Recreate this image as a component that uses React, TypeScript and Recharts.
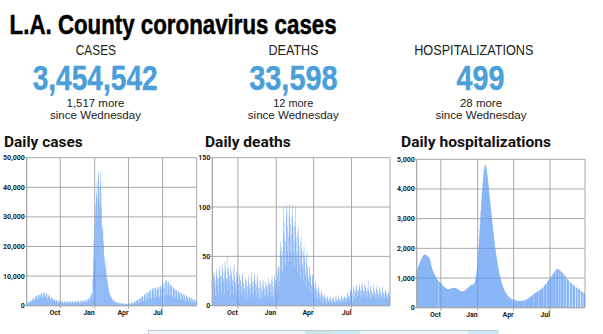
import React from 'react';
import { BarChart, Bar, XAxis, YAxis, CartesianGrid } from 'recharts';

// ---------- data ----------
const X_TICKS = [92, 184, 274, 365];
const X_TICK_LABELS = ['Oct', 'Jan', 'Apr', 'Jul'];

const CASES_START = 3;
const CASES_VALUES = [
  400, 700, 1000, 1100, 1200, 1100, 800,
  900, 1300, 1600, 1700, 1800, 1600, 1200,
  1400, 1900, 2400, 2600, 2700, 2400, 1700,
  1900, 2500, 3100, 3300, 3400, 3100, 2200,
  2300, 3000, 3600, 3800, 3900, 3600, 2600,
  2600, 3300, 4000, 4200, 4300, 4000, 2900,
  2800, 3600, 4400, 4600, 4500, 4200, 3000,
  2600, 3300, 4100, 4300, 4000, 3700, 2700,
  2300, 2900, 3500, 3600, 3400, 3100, 2200,
  1800, 2200, 2900, 2900, 2700, 2500, 1700,
  1400, 1800, 2300, 2300, 2200, 2000, 1400,
  1100, 1500, 1900, 1900, 1800, 1600, 1100,
  900, 1200, 1600, 1700, 1600, 1400, 900,
  800, 1100, 1400, 1500, 1500, 1300, 900,
  700, 1000, 1300, 1500, 1400, 1300, 800,
  700, 1100, 1400, 1500, 1400, 1300, 800,
  800, 1100, 1500, 1600, 1500, 1300, 900,
  700, 1100, 1400, 1500, 1400, 1200, 800,
  800, 1200, 1500, 1700, 1600, 1400, 900,
  900, 1300, 1700, 1800, 1700, 1500, 900,
  800, 1200, 1600, 1800, 600, 1400, 1000,
  900, 1500, 1700, 1800, 1700, 1500, 1000,
  1000, 1600, 1900, 2000, 1900, 1700, 1100,
  1200, 2000, 2300, 2500, 2600, 2400, 1600,
  1800, 2800, 3300, 3900, 4500, 3500, 1500,
  4000, 9000, 12000, 16000, 22000, 27000, 21000,
  15000, 31000, 34000, 37000, 38000, 42000, 30000,
  36000, 44000, 45500, 43000, 40000, 35000, 33000,
  45000, 42000, 38000, 33000, 26000, 27000, 25000,
  26000, 22000, 20000, 17000, 14000, 16000, 13000,
  12000, 15000, 11000, 9000, 8000, 7000, 9000,
  6500, 6000, 5000, 4500, 3500, 4000, 3000,
  2500, 3200, 2800, 2200, 1800, 1500, 2500,
  2000, 1800, 1600, 1300, 1100, 900, 1400,
  1300, 1200, 1100, 900, 700, 1100, 1000,
  1000, 900, 800, 600, 500, 900, 900,
  800, 800, 700, 500, 400, 800, 800,
  700, 750, 650, 450, 400, 750, 700,
  700, 700, 600, 400, 350, 750, 750,
  800, 800, 700, 450, 400, 900, 1000,
  1000, 1100, 900, 600, 500, 1200, 1300,
  1400, 1500, 1300, 800, 700, 1700, 1800,
  1900, 2000, 1700, 1000, 900, 2200, 2300,
  2500, 2600, 2200, 1300, 1100, 2900, 3000,
  3200, 3300, 2800, 1600, 1400, 3600, 3800,
  3900, 4000, 3400, 2000, 1700, 4300, 4500,
  4600, 4700, 4000, 2300, 2000, 5000, 5200,
  5300, 5400, 4600, 2600, 2200, 5600, 5800,
  5900, 6000, 5100, 2900, 2500, 6000, 6100,
  6100, 6000, 5200, 2900, 2500, 5800, 6200,
  6300, 6200, 5400, 3000, 2600, 6400, 6600,
  6700, 6500, 5600, 3100, 2700, 6900, 7200,
  400, 7000, 8000, 6000, 3500, 3000, 8500,
  8800, 8600, 7400, 4200, 3600, 8200, 8000,
  7800, 7600, 6500, 3700, 3200, 7300, 7100,
  6900, 6700, 5800, 3300, 2800, 6400, 6200,
  6000, 5800, 5000, 2900, 2500, 5600, 5400,
  5300, 5100, 4400, 2500, 2200, 5000, 4800,
  4700, 4500, 3900, 2300, 2000, 4500, 4300,
  4200, 4000, 3400, 2000, 1800, 4000, 3800,
  3700, 3500, 3000, 1800, 1600, 3500, 3300,
  3200, 3000, 2600, 1500, 1300, 3000, 2800,
  2700, 2600, 2200, 1300, 1100, 2600, 2400,
  2300, 2200, 1900, 1100, 900, 2200, 2000,
  1900, 1800, 1600, 1000, 900, 1700,
];

const DEATHS_START = 31;
const DEATHS_VALUES = [
  22, 8, 30, 35, 28, 32, 18,
  25, 10, 33, 38, 30, 28, 20,
  28, 12, 36, 40, 33, 30, 22,
  30, 14, 42, 38, 35, 27, 24,
  32, 12, 45, 36, 40, 28, 25,
  28, 15, 50, 34, 38, 30, 22,
  30, 10, 40, 35, 32, 27, 20,
  26, 12, 38, 42, 30, 25, 18,
  24, 10, 35, 33, 28, 30, 16,
  22, 8, 32, 30, 26, 24, 14,
  20, 9, 30, 34, 24, 22, 15,
  18, 8, 28, 26, 25, 20, 12,
  20, 6, 25, 30, 22, 18, 14,
  22, 8, 34, 28, 24, 20, 12,
  24, 10, 30, 33, 26, 22, 15,
  20, 8, 28, 31, 24, 18, 12,
  18, 6, 26, 25, 8, 20, 14,
  16, 7, 24, 26, 20, 17, 10,
  18, 8, 25, 22, 20, 16, 12,
  20, 9, 28, 24, 22, 18, 14,
  22, 10, 26, 30, 24, 10, 8,
  20, 12, 28, 32, 26, 22, 10,
  25, 15, 32, 38, 40, 35, 20,
  40, 25, 55, 65, 60, 50, 35,
  55, 35, 75, 100, 85, 70, 45,
  65, 40, 90, 102, 95, 80, 55,
  70, 45, 95, 103, 90, 82, 55,
  72, 45, 92, 102, 88, 80, 55,
  65, 40, 85, 100, 80, 70, 50,
  55, 35, 75, 80, 68, 60, 42,
  50, 28, 65, 70, 58, 55, 38,
  42, 25, 55, 60, 50, 45, 30,
  35, 20, 48, 55, 40, 38, 25,
  28, 15, 38, 40, 32, 30, 20,
  22, 12, 30, 32, 25, 22, 15,
  18, 8, 22, 25, 18, 16, 10,
  14, 6, 18, 20, 15, 12, 8,
  10, 4, 14, 16, 12, 10, 6,
  8, 3, 10, 12, 9, 8, 5,
  6, 2, 9, 10, 7, 6, 4,
  6, 3, 8, 10, 7, 6, 4,
  5, 2, 8, 9, 7, 5, 3,
  5, 3, 9, 10, 6, 5, 4,
  6, 2, 8, 10, 7, 6, 4,
  6, 3, 9, 11, 8, 6, 5,
  7, 3, 10, 9, 8, 7, 4,
  8, 4, 12, 14, 10, 9, 6,
  10, 5, 15, 17, 12, 11, 7,
  12, 3, 6, 18, 20, 15, 9,
  14, 8, 19, 21, 17, 15, 10,
  15, 9, 20, 22, 18, 16, 10,
  16, 8, 21, 23, 19, 15, 11,
  15, 9, 22, 20, 18, 16, 10,
  14, 8, 18, 25, 17, 15, 9,
  13, 7, 20, 19, 16, 14, 10,
  12, 8, 18, 22, 15, 13, 9,
  13, 6, 17, 20, 16, 12, 8,
  12, 7, 19, 18, 15, 13, 9,
  11, 6, 16, 19, 14, 12, 8,
  12, 7, 17, 15, 14, 11, 9,
  11, 6, 14, 13, 12, 10, 9,
];

const HOSP_START = 32;
const HOSP_VALUES: (number | null)[] = [
  1250, 1290, 1330, 1370, 1410, 1450, 1480,
  1510, 1540, 1570, 1600, 1630, 1660, 1690,
  1710, 1730, 1750, 1770, 1780, 1790, 1800,
  1795, 1790, 1780, 1760, 1740, 1730, 1720,
  1720, 1715, 1700, 1680, 1650, 1600, 1540,
  1480, 1420, 1360, 1310, 1270, 1240, 1210,
  1190, 1160, 1130, 1100, 1070, 1040, 1010,
  990, 970, 950, 930, 920, null, 900,
  880, 870, 860, 850, 840, 820, 800,
  780, 760, 740, 730, 720, 710, 700,
  690, 680, 670, 660, 650, 640, 630,
  625, 620, 615, 615, 620, 625, 630,
  640, 645, 650, 655, 660, 660, 665,
  665, 670, 670, 665, 660, 660, 655,
  650, 645, 640, 635, 630, 620, 610,
  600, 590, 580, 570, 565, 560, 555,
  550, 550, 555, 560, 555, 550, 560,
  570, 580, 590, 600, 610, 620, 635,
  650, 665, 680, 690, 700, 710, 720,
  730, 740, 750, 760, 770, 780, 775,
  770, 775, 780, 800, 830, 870, 920,
  980, 1060, 1160, 1280, 1420, 1580, 1760,
  1950, 2150, 2380, 2600, 2830, 3050, 3270,
  3480, 3680, 3870, 4050, 4220, 4380, 4520,
  4640, 4730, 4790, 4810, 4790, 4740, 4670,
  4580, 4480, 4370, 4250, 4130, 4000, 3870,
  3740, 3610, 3480, 3350, 3220, 3090, 2960,
  2830, 2700, 2580, 2460, 2340, 2230, 2120,
  2010, 1910, 1810, 1720, 1630, 1540, 1460,
  1380, 1310, 1240, 1170, 1110, 1050, 990,
  940, 890, 840, 800, 760, 720, 680,
  650, 620, 590, 560, 530, 510, 490,
  470, 450, 430, 410, 395, 380, 365,
  350, 340, 330, 320, 310, 300, 295,
  null, 285, 280, 275, 270, 265, 260,
  255, 250, 245, 240, 238, 235, 232,
  230, 228, 226, 225, 224, 224, 225,
  226, 227, 228, 230, 232, 234, 236,
  238, 241, null, 248, 252, 257, 262,
  268, 275, 282, 290, 298, 307, 316,
  326, 336, 346, 356, 367, 378, 389,
  400, 411, 422, 433, 444, null, 466,
  476, 486, 495, 504, 512, 520, 528,
  536, 544, 552, null, 568, 576, 585,
  594, 604, 614, 625, 637, 650, 664,
  678, 693, null, 724, 740, 757, 774,
  791, 808, 826, null, 862, 880, 898,
  916, 934, null, 970, 990, 1010, 1030,
  1050, 1070, null, 1110, 1130, 1150, 1170,
  1190, 1210, 1230, null, 1265, 1280, 1295,
  1305, 1310, 1310, 1305, null, 1285, 1275,
  1265, 1255, 1245, null, 1220, 1205, 1190,
  1175, 1160, 1145, null, 1115, 1100, 1080,
  1060, 1040, null, null, 985, 970, 955,
  940, 925, 910, null, null, 868, 856,
  844, 832, 820, null, null, 784, 772,
  760, 748, 736, 724, null, null, 690,
  680, 670, 660, null, null, 630, 620,
  610, 600, 590, null, null, 560, 550,
  540, 530, null, null, 500, 495, 490,
  485,
];

const CASES_Y_TICKS = [0, 10000, 20000, 30000, 40000, 50000];
const DEATHS_Y_TICKS = [0, 50, 100, 150];
const HOSP_Y_TICKS = [0, 1000, 2000, 3000, 4000, 5000];

const STAT_LABELS = ['CASES', 'DEATHS', 'HOSPITALIZATIONS'];
const STAT_TOTALS = ['3,454,542', '33,598', '499'];
const STAT_CHANGES = ['1,517 more', '12 more', '28 more'];
const STAT_SINCE = 'since Wednesday';
const TITLE = 'L.A. County coronavirus cases';
const CHART_TITLES = ['Daily cases', 'Daily deaths', 'Daily hospitalizations'];

// ---------- styling ----------
const BAR_COLOR = '#5a99f2';
const GRID_COLOR = '#a8a8a8';
const NUM_COLOR = '#4a9fd8';
const NARROW = '"Liberation Sans Narrow", "Arial Narrow", sans-serif';
const SANS = 'Roboto, "Liberation Sans", sans-serif';

const toRows = (start: number, values: (number | null)[]) =>
  values.map((v, i) => ({ day: start + i, value: v }));

const fmt = (v: number) => v.toLocaleString('en-US');

const XTick = (props: any) => {
  const { x, y, payload } = props;
  const idx = X_TICKS.indexOf(payload.value);
  return (
    <text x={x} y={y} dy={5} textAnchor="end" fontSize={7} fontWeight={700} fill="#222" fontFamily={SANS}>
      {idx >= 0 ? X_TICK_LABELS[idx] : ''}
    </text>
  );
};

type ChartProps = {
  data: { day: number; value: number | null }[];
  domain: [number, number];
  yTicks: number[];
  left: number;
  top: number;
  width: number;
  height: number;
  marginTop: number;
  marginRight: number;
  yAxisWidth: number;
  xAxisHeight: number;
  barSize?: number;
};

const DailyChart = (p: ChartProps) => (
  <div style={{ position: 'absolute', left: p.left, top: p.top }}>
    <BarChart
      width={p.width}
      height={p.height}
      data={p.data}
      margin={{ top: p.marginTop, right: p.marginRight, bottom: 0, left: 0 }}
      barCategoryGap={0}
      barGap={0}
      barSize={p.barSize}
    >
      <CartesianGrid stroke={GRID_COLOR} strokeWidth={1} />
      <XAxis
        dataKey="day"
        type="number"
        domain={p.domain}
        allowDataOverflow
        ticks={X_TICKS}
        interval={0}
        height={p.xAxisHeight}
        tick={<XTick />}
        tickSize={3}
        tickMargin={1}
        tickLine={{ stroke: GRID_COLOR }}
        axisLine={{ stroke: GRID_COLOR }}
      />
      <YAxis
        type="number"
        domain={[0, p.yTicks[p.yTicks.length - 1]]}
        allowDataOverflow
        ticks={p.yTicks}
        interval={0}
        width={p.yAxisWidth}
        tickFormatter={fmt}
        tickSize={2}
        tickMargin={0}
        tickLine={{ stroke: GRID_COLOR }}
        axisLine={{ stroke: GRID_COLOR }}
        tick={{ fontSize: 7, fontWeight: 700, fill: '#222', fontFamily: SANS }}
      />
      <Bar dataKey="value" fill={BAR_COLOR} isAnimationActive={false} />
    </BarChart>
  </div>
);

const STAT_LAYOUT = [
  { label: [75.8, 40.2], total: [32.7, 125], center: 95.5 },
  { label: [268.5, 50], total: [249.2, 88.5], center: 293.3 },
  { label: [414.2, 119.3], total: [456.5, 48], center: 481 },
];
const CHANGE_WIDTHS = [58, 40, 42];
const CHART_TITLE_LAYOUT = [
  [4, 78.7],
  [205, 85.7],
  [401, 150],
];

export default function App() {
  return (
    <div style={{ position: 'absolute', left: 0, top: 0, width: 603, height: 334, background: '#fff', overflow: 'hidden' }}>
      <svg width={603} height={334} style={{ position: 'absolute', left: 0, top: 0 }}>
        <text x={9.6} y={33.5} fontSize={28} fontWeight={700} fontFamily={NARROW} fill="#000" stroke="#000" strokeWidth={0.5}
          textLength={327} lengthAdjust="spacingAndGlyphs">{TITLE}</text>
        {STAT_LABELS.map((lab, i) => {
          const L = STAT_LAYOUT[i];
          return (
            <g key={lab}>
              <text x={L.label[0]} y={55} fontSize={14} fontFamily={NARROW} fill="#222"
                textLength={L.label[1]} lengthAdjust="spacingAndGlyphs">{lab}</text>
              <text x={L.total[0]} y={90} fontSize={35} fontWeight={700} fontFamily={NARROW} fill={NUM_COLOR}
                stroke={NUM_COLOR} strokeWidth={0.4}
                textLength={L.total[1]} lengthAdjust="spacingAndGlyphs">{STAT_TOTALS[i]}</text>
              <text x={L.center - CHANGE_WIDTHS[i] / 2} y={106.5} fontSize={10.8} fontFamily={NARROW} fill="#222"
                textLength={CHANGE_WIDTHS[i]} lengthAdjust="spacingAndGlyphs">{STAT_CHANGES[i]}</text>
              <text x={L.center - 45.5} y={118.8} fontSize={10.8} fontFamily={NARROW} fill="#222"
                textLength={91} lengthAdjust="spacingAndGlyphs">{STAT_SINCE}</text>
            </g>
          );
        })}
        {CHART_TITLES.map((t, i) => (
          <text key={t} x={CHART_TITLE_LAYOUT[i][0]} y={147} fontSize={15} fontWeight={700} fontFamily={SANS} fill="#111"
            textLength={CHART_TITLE_LAYOUT[i][1]} lengthAdjust="spacingAndGlyphs">{t}</text>
        ))}
        <rect x={148.5} y={330.5} width={349.5} height={10} fill="#eef6f9" stroke="#b9cdd4" />
        <rect x={305} y={331} width={28} height={9} fill="#cfe2e6" />
        <rect x={333} y={331} width={27} height={9} fill="#c9e9f3" />
        <rect x={468} y={331} width={29.5} height={9} fill="#d0e8f3" />
      </svg>
      <DailyChart data={toRows(CASES_START, CASES_VALUES)} domain={[2.5, 456]} yTicks={CASES_Y_TICKS} barSize={0.6}
        left={0} top={150} width={200} height={176} marginTop={7.7} marginRight={3.3} yAxisWidth={26.7} xAxisHeight={20.3} />
      <DailyChart data={toRows(DEATHS_START, DEATHS_VALUES)} domain={[30.5, 457.5]} yTicks={DEATHS_Y_TICKS} barSize={0.6}
        left={195} top={150} width={200} height={176} marginTop={7.7} marginRight={5} yAxisWidth={17.3} xAxisHeight={20.3} />
      <DailyChart data={toRows(HOSP_START, HOSP_VALUES)} domain={[31.5, 452.5]} yTicks={HOSP_Y_TICKS}
        left={395} top={150} width={195} height={178} marginTop={9.3} marginRight={5} yAxisWidth={21.7} xAxisHeight={20.3} />
    </div>
  );
}
